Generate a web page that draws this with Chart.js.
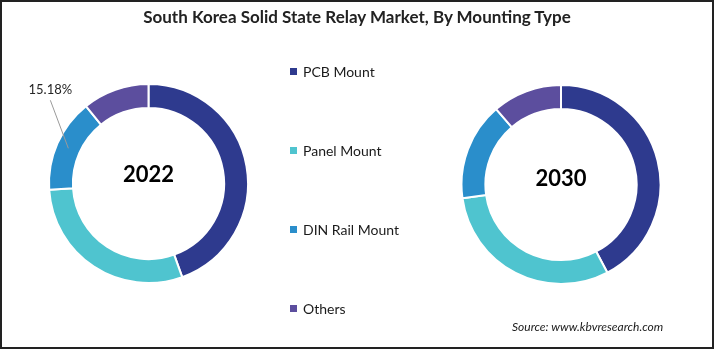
<!DOCTYPE html>
<html><head><meta charset="utf-8">
<script src="https://cdn.jsdelivr.net/npm/chart.js@4.4.0/dist/chart.umd.min.js"></script>
<style>
html,body{margin:0;padding:0;background:#fff;}
#wrap{position:relative;width:714px;height:349px;box-sizing:border-box;border:2px solid #222;overflow:hidden;background:#fff;font-family:Lato,"Open Sans",sans-serif;}
canvas{position:absolute;}
#title{position:absolute;left:0;top:4px;width:710px;text-align:center;font-weight:bold;font-size:17px;color:#222;}
.leg{position:absolute;left:288px;font-size:14px;color:#1a1a1a;display:flex;align-items:center;}
.leg i{display:inline-block;width:7px;height:7px;margin-right:6px;}
#src{position:absolute;left:510px;top:317px;font-size:12px;font-style:italic;color:#1a1a1a;}
</style></head><body>
<div id="wrap">
<canvas id="c1" width="297" height="349" style="left:-2px;top:-2px"></canvas>
<canvas id="c2" width="202" height="349" style="left:458px;top:-2px"></canvas>
<div id="title">South Korea Solid State Relay Market, By Mounting Type</div>
<div id="legend"></div>
<div id="src">Source: www.kbvresearch.com</div>
</div>
<script>
const categories = ["PCB Mount", "Panel Mount", "DIN Rail Mount", "Others"];
const values2022 = [44.5, 29.5, 15.18, 10.82];
const values2030 = [42.3, 30.5, 15.9, 11.3];
const years = ["2022", "2030"];
const colors = ["#2E3A8E", "#4FC4CF", "#2A8ECB", "#5C4E9E"];
const labelIndex = 2;
const labelText = "15.18%";

const legendTops = [61, 140, 219, 298];
const legend = document.getElementById('legend');
categories.forEach((c,i)=>{
  const d=document.createElement('div');d.className='leg';d.style.top=legendTops[i]+'px';
  d.innerHTML='<i style="background:'+colors[i]+'"></i>'+c;legend.appendChild(d);
});

const centerText = {
  id:'centerText',
  afterDraw(chart, args, opts){
    const a = chart.getDatasetMeta(0).data[0];
    const ctx = chart.ctx; ctx.save();
    ctx.font = 'bold 22px Lato, "Open Sans", sans-serif';
    ctx.fillStyle = '#000'; ctx.textAlign='center'; ctx.textBaseline='middle';
    ctx.fillText(opts.text, a.x + (opts.dx||0), a.y + (opts.dy||0));
    ctx.restore();
  }
};
const leader = {
  id:'leader',
  afterDraw(chart, args, opts){
    if(!opts.show) return;
    const a = chart.getDatasetMeta(0).data[labelIndex];
    const mid = (a.startAngle + a.endAngle)/2;
    const r = (a.innerRadius + a.outerRadius)/2;
    const x0 = a.x + Math.cos(mid)*r, y0 = a.y + Math.sin(mid)*r;
    const x1 = x0 - 18, y1 = y0 - 48;
    const ctx = chart.ctx; ctx.save();
    ctx.strokeStyle = '#9a9a9a'; ctx.lineWidth = 1;
    ctx.beginPath(); ctx.moveTo(x0,y0); ctx.lineTo(x1,y1); ctx.stroke();
    ctx.font = '13px Lato, "Open Sans", sans-serif'; ctx.fillStyle='#262626';
    ctx.textAlign='center'; ctx.textBaseline='bottom';
    ctx.fillText(labelText, x1, y1 - 4);
    ctx.restore();
  }
};

function make(id, data, year, pad, showLabel, dy){
  return new Chart(document.getElementById(id), {
    type:'doughnut',
    data:{labels:categories, datasets:[{data:data, backgroundColor:colors, borderColor:'#fff', borderWidth:2}]},
    options:{
      responsive:false, animation:false, cutout:'76%',
      layout:{padding:pad},
      plugins:{legend:{display:false}, tooltip:{enabled:false},
        centerText:{text:year, dy:dy}, leader:{show:showLabel}}
    },
    plugins:[centerText, leader]
  });
}
make('c1', values2022, years[0], {left:48,right:48,top:83,bottom:65}, true, -9);
make('c2', values2030, years[1], {left:0,right:0,top:84,bottom:64}, false, -6);
</script>
</body></html>
